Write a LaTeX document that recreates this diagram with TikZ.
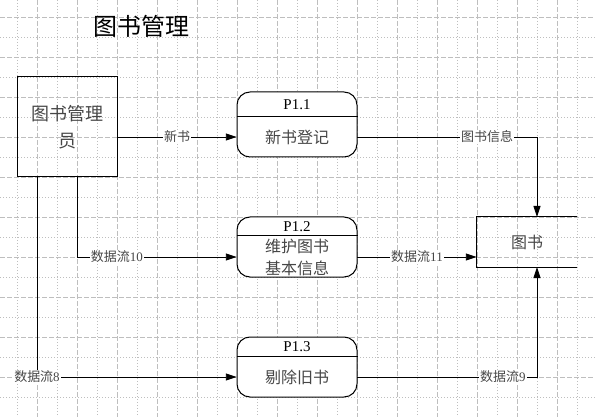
\documentclass[tikz,border=0pt]{standalone}
\usepackage{fontspec}
\setmainfont{Liberation Serif}
\newfontfamily\cjk{Noto Sans CJK SC}
\usetikzlibrary{arrows.meta}
\definecolor{gridgray}{RGB}{190,190,190}
\definecolor{txtgray}{RGB}{70,70,70}

\begin{document}
\begin{tikzpicture}[x=1pt, y=-1pt,
  majgrid/.style={gridgray, line width=0.8pt, dash pattern=on 5pt off 2pt},
  mingrid/.style={gridgray, line width=0.8pt, dash pattern=on 1pt off 2pt},
  flow/.style={line width=0.9pt, -{Triangle[length=11pt, width=7pt]}},
  lbl/.style={fill=white, inner sep=1pt, text=txtgray, font=\cjk\fontsize{13}{15}\selectfont},
  procbox/.style={draw, line width=1pt, rounded corners=13pt, minimum width=120pt},
  body/.style={minimum width=120pt, text=txtgray, align=center, font=\cjk\fontsize{16}{22}\selectfont},
]
\useasboundingbox (0,0) rectangle (595,417);

%%% grid
\foreach \k in {0,...,28}{
  \ifodd\k \def\gs{majgrid}\else\def\gs{mingrid}\fi
  \draw [\gs] (17+20*\k,0) -- (17+20*\k,417);
}
\foreach \k in {0,...,19}{
  \ifodd\k \def\gs{mingrid}\else\def\gs{majgrid}\fi
  \draw [\gs] (0,17+20*\k) -- (595,17+20*\k);
}

%%% nodes

% title
\node (title) at (141,26) {\cjk\fontsize{24}{28}\selectfont 图书管理};

% external entity
\node [draw, line width=1pt, minimum width=100pt, minimum height=100pt,
  text=txtgray, align=center, font=\cjk\fontsize{18}{27}\selectfont] (admin) at (67,127) {图书管理\\员};

% process nodes
\node [procbox, fill=white, minimum height=65pt] (p1) at (297,124.5) {};
\node [procbox, fill=white, minimum height=60pt] (p2) at (297,247) {};
\node [procbox, fill=white, minimum height=60pt] (p3) at (297,367) {};
\node (p1id) at (297,104.5) {\fontsize{15}{17}\selectfont P1.1};
\node (p2id) at (297,227) {\fontsize{15}{17}\selectfont P1.2};
\node (p3id) at (297,347) {\fontsize{15}{17}\selectfont P1.3};
\node [body, minimum height=40pt] (p1body) at (297,137) {新书登记};
\node [body, minimum height=40pt] (p2body) at (297,257) {维护图书\\基本信息};
\node [body, minimum height=40pt] (p3body) at (297,377) {剔除旧书};
\draw [line width=1pt] (p1.west |- p1body.north) -- (p1.east |- p1body.north);
\draw [line width=1pt] (p2.west |- p2body.north) -- (p2.east |- p2body.north);
\draw [line width=1pt] (p3.west |- p3body.north) -- (p3.east |- p3body.north);

% data store
\node [minimum width=100pt, minimum height=50pt, text=txtgray,
  font=\cjk\fontsize{16}{20}\selectfont] (store) at (527,242) {图书};
\draw [line width=1pt] (store.north east) -- (store.north west) -- (store.south west) -- (store.south east);

% connector ends
\coordinate (a8) at (37,177);
\coordinate (a10) at (77,177);
\coordinate (sin) at (537,217);
\coordinate (sout) at (537,267);

%%% edges
\draw [flow] (admin.east |- p1body) -- node [lbl] {新书} (p1body.west);
\draw [flow] (a10) |- node [lbl, pos=0.625] {数据流\rmfamily 10} (p2body.west);
\draw [flow] (a8) |- node [lbl, pos=0.5] {数据流\rmfamily 8} (p3body.west);
\draw [flow] (p1body.east) -| node [lbl, pos=0.361] {图书信息} (sin);
\draw [flow] (p2body.east) -- node [lbl] {数据流\rmfamily 11} (store.west |- p2body);
\draw [flow] (p3body.east) -| node [lbl, pos=0.405] {数据流\rmfamily 9} (sout);
\end{tikzpicture}
\end{document}
